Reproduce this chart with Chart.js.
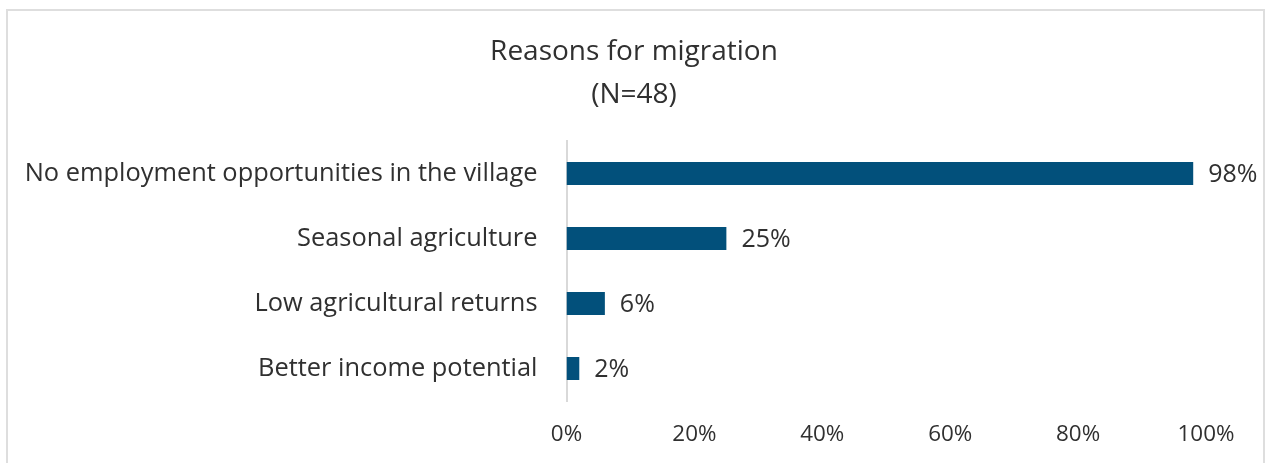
<!DOCTYPE html>
<html lang="en">
<head>
    <meta charset="UTF-8">
    <title>Reasons for migration</title>
    <style>
        body { margin: 0; background: #fff; overflow: hidden; }
        #frame {
            position: absolute; left: 6px; top: 9px;
            width: 1255px; height: 480px;
            border: 2px solid #dedede;
        }
        #myChart { position: absolute; left: 0; top: 0; }
    </style>
</head>
<body>
    <div id="frame"></div>
    <canvas id="myChart" width="1268" height="463"></canvas>

    <script src="https://cdn.jsdelivr.net/npm/chart.js"></script>
    <script>
        const reasons = [
            'No employment opportunities in the village',
            'Seasonal agriculture',
            'Low agricultural returns',
            'Better income potential'
        ]
        const shares = [98, 25, 6, 2]
        const xTicks = [0, 20, 40, 60, 80, 100]

        const barColor = '#02507b'
        const textColor = '#303030'

        // writes the "98%" style labels just right of each bar
        const valueLabels = {
            id: 'valueLabels',
            afterDatasetsDraw(chart) {
                const c = chart.ctx
                const meta = chart.getDatasetMeta(0)
                c.save()
                c.font = '25px "Open Sans"'
                c.fillStyle = textColor
                c.textAlign = 'left'
                c.textBaseline = 'middle'
                meta.data.forEach((bar, i) => {
                    c.fillText(shares[i] + '%', bar.x + 15, bar.y + 1)
                })
                c.restore()
            }
        }

        const ctx = document.getElementById('myChart')
        new Chart(ctx, {
            type: 'bar',
            data: {
                labels: reasons,
                datasets: [{
                    data: shares,
                    backgroundColor: barColor,
                    borderWidth: 0,
                    categoryPercentage: 1,
                    barPercentage: 0.355
                }]
            },
            options: {
                indexAxis: 'y',
                responsive: false,
                animation: false,
                layout: { padding: 0 },
                plugins: {
                    legend: { display: false },
                    tooltip: { enabled: false },
                    title: {
                        display: true,
                        text: ['Reasons for migration', '(N=48)'],
                        color: '#303030',
                        font: { family: 'Open Sans', size: 28, weight: 'normal', lineHeight: 1.536 },
                        padding: { top: 31, bottom: 24 }
                    }
                },
                scales: {
                    x: {
                        min: 0,
                        max: 100,
                        afterBuildTicks: (scale) => { scale.ticks = xTicks.map(v => ({ value: v })) },
                        afterFit: (scale) => { scale.height = 62 },
                        grid: { display: false, drawTicks: false },
                        border: { display: false },
                        ticks: {
                            callback: (v) => v + '%',
                            color: textColor,
                            font: { family: 'Open Sans', size: 22.4 },
                            padding: 20.6,
                            maxRotation: 0
                        }
                    },
                    y: {
                        afterFit: (scale) => { scale.width = 566.5 },
                        grid: { display: false, drawTicks: false },
                        border: { display: true, color: '#d9d9d9', width: 2 },
                        ticks: {
                            color: textColor,
                            font: { family: 'Open Sans', size: 25.4 },
                            padding: 29
                        }
                    },
                    // empty right-hand axis: reserves room for the value labels
                    yRight: {
                        type: 'category',
                        position: 'right',
                        afterFit: (scale) => { scale.width = 62 },
                        grid: { display: false, drawTicks: false },
                        border: { display: false },
                        ticks: { display: false }
                    }
                }
            },
            plugins: [valueLabels]
        })
    </script>
</body>
</html>
